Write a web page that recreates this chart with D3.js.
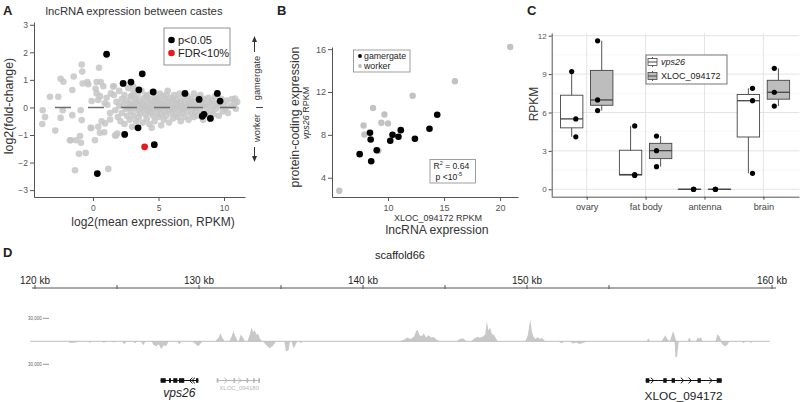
<!DOCTYPE html>
<html><head><meta charset="utf-8">
<script src="https://cdn.jsdelivr.net/npm/d3@7"></script>
<style>
body{margin:0;background:#fff;}
svg{display:block;}
</style></head><body>
<svg id="chart" width="800" height="402"></svg>
<script>
// ================= DATA =================
// Panel A: MA plot (log2 mean expression, log2 fold-change)
const maGrey = [
[-0.86,1.56],[-0.82,1.3],[0.46,1.44],[-2.47,1.04],[-2.26,0.93],[-1.47,1.12],[-1.58,0.63],[-0.79,0.87],[-0.44,0.92],[-0.36,0.84],
[0.59,0.92],[0.79,0.77],[0.2,0.68],[0.28,0.51],[-3.28,0.39],[-2.65,0.39],[-0.1,0.23],[0.4,0.27],[-3.84,-0.1],[-2.31,-0.1],
[-0.94,-0.1],[-3.66,-0.35],[-1.58,-0.28],[-2.47,-0.38],[-3.87,-0.6],[-0.86,-0.46],[-2.88,-0.84],[-0.13,-0.75],[0.4,-0.7],[0.53,-0.92],
[-0.99,-1.04],[-1.76,-1.19],[-1.3,-1.19],[-0.92,-1.28],[0.15,-1.19],[-1.07,-1.68],[-0.56,-1.65],[-1.37,-2.28],[1.17,-2.23],[1.37,0.51],
[1.6,0.77],[1.76,-1.02],[1.04,0.35],[1.3,-0.44],[0.92,-0.58],[0.66,-0.5],[-1.7,-1.19],[-0.18,-0.74],[0.86,-0.9],[1.68,-1.02],
[1.85,-0.95],[4.48,-0.74],[0.53,0.41],[1.53,0.76],[0.28,0.92],[3.08,0.77],[5.2,-0.65],[1.1,0.1],[1.3,-0.2],[0.9,0.15],
[1.6,0.45],[1.7,-0.1],[1.8,0.2],[1.9,-0.35],[2.0,0.6],[2.0,0.05],[2.1,-0.5],[2.2,0.3],[2.2,-0.2],[2.3,0.1],
[2.4,-0.6],[2.4,0.45],[2.5,-0.05],[2.6,0.25],[2.6,-0.3],[2.7,0.7],[2.7,0.0],[2.8,-0.45],[2.8,0.15],[2.9,0.4],
[2.9,-0.15],[3.0,-0.7],[3.0,0.1],[3.1,0.55],[3.1,-0.3],[3.2,0.0],[3.2,0.3],[3.3,-0.5],[3.3,0.2],[3.4,-0.1],
[3.4,0.45],[3.5,0.1],[3.5,-0.35],[3.6,0.25],[3.6,-0.2],[3.7,0.0],[3.7,0.6],[3.8,-0.55],[3.8,0.15],[3.9,-0.05],
[3.9,0.35],[4.0,-0.25],[4.0,0.05],[4.1,0.45],[4.1,-0.4],[4.2,0.2],[4.2,-0.1],[4.3,0.0],[4.3,-0.6],[4.4,0.3],
[4.4,-0.2],[4.5,0.1],[4.5,0.55],[4.6,-0.3],[4.6,-0.05],[4.7,0.2],[4.7,-0.5],[4.8,0.0],[4.8,0.35],[4.9,-0.15],
[4.9,0.1],[5.0,-0.35],[5.0,0.25],[5.1,0.5],[5.1,-0.05],[5.2,0.15],[5.2,-0.25],[5.3,0.0],[5.3,0.4],[5.4,-0.45],
[5.4,0.1],[5.5,-0.15],[5.5,0.3],[5.6,0.05],[5.6,-0.3],[5.7,0.2],[5.7,0.6],[5.8,-0.1],[5.8,-0.55],[5.9,0.1],
[5.9,0.35],[6.0,-0.2],[6.0,0.0],[6.1,0.25],[6.1,-0.4],[6.2,0.45],[6.2,-0.05],[6.3,0.15],[6.3,-0.25],[6.4,0.0],
[6.4,0.3],[6.5,-0.35],[6.5,0.1],[6.6,-0.1],[6.6,0.5],[6.7,0.2],[6.7,-0.5],[6.8,0.05],[6.8,-0.2],[6.9,0.35],
[6.9,-0.05],[7.0,0.15],[7.0,-0.35],[7.1,0.0],[7.2,0.4],[7.2,-0.15],[7.3,0.2],[7.3,-0.45],[7.4,0.05],[7.5,-0.25],
[7.5,0.3],[7.6,0.1],[7.6,-0.05],[7.7,0.5],[7.7,-0.35],[7.8,0.2],[7.8,-0.15],[7.9,0.0],[8.0,0.35],[8.0,-0.3],
[8.1,0.1],[8.2,-0.1],[8.2,0.45],[8.3,0.2],[8.4,-0.45],[8.4,0.05],[8.5,0.3],[8.6,-0.2],[8.6,0.1],[8.7,0.0],
[8.8,0.35],[8.8,-0.3],[8.9,0.15],[9.0,-0.1],[9.1,0.25],[9.2,-0.25],[9.2,0.05],[9.3,0.4],[9.4,-0.05],[9.5,0.15],
[9.6,-0.3],[9.7,0.05],[9.8,0.3],[9.9,-0.15],[10.0,0.1],[10.1,-0.05],[10.2,0.25],[10.3,-0.2],[10.5,0.05],[10.6,0.3],
[10.8,0.15],[10.9,-0.05],[11.0,0.2],[10.84,0.32],[8.17,0.35],[5.6,0.47],[4.86,0.29],[4.1,0.41],[2.95,0.41],[2.83,0.02]
];
const maSignificant = [
[1.04,1.93],[2.3,0.87],[2.9,0.92],[3.76,1.22],[3.5,0.64],[3.44,-0.74],[2.42,-0.98],[0.33,-2.4],
[4.6,0.56],[4.68,-1.35],[7.02,0.51],[8.1,0.29],[9.49,0.51],[9.7,0.23],[8.47,-0.25],[8.34,-0.32],[8.96,-0.4]
];
const maFdr = [[3.94,-1.43]];
const aXTicks = [0,5,10];
const aYTicks = [-3,-2,-1,0,1,2,3];

// Panel B: XLOC_094172 RPKM vs vps26 RPKM
const corGamergate = [
[14.39,9.88],[13.7,8.57],[11.14,8.44],[10.93,7.82],[10.4,8.0],[10.2,7.45],[12.4,7.63],
[8.39,8.2],[8.45,7.57],[7.47,6.2],[8.99,6.57],[8.5,5.54]
];
const corWorker = [
[20.9,16.2],[15.97,13.0],[12.2,11.65],[8.66,10.5],[9.68,9.9],[9.41,9.13],[10.0,9.07],
[7.82,8.88],[7.89,8.04],[9.14,6.51],[5.65,2.78]
];
const bXTicks = [10,15,20];
const bYTicks = [4,8,12,16];

// Panel C: RPKM per tissue
const tissues = ["ovary","fat body","antenna","brain"];
const genes = ["vps26","XLOC_094172"];
const vps26Rpkm = [[4.1,5.5,9.2],[1.08,1.15,4.95],[0,0,0],[1.25,6.92,7.89]];
const xlocRpkm  = [[6.15,6.98,11.6],[1.77,3.02,4.16],[0,0,0],[6.5,7.58,9.45]];
const cYTicks = [0,3,6,9,12];

// Panel D: scaffold66 coverage (kb, reads) and gene models (kb)
const kbTicks = [120,125,130,135,140,145,150,155];
const kbLabels = [120,130,140,150];
const plusCov = [
[120,0],[131.0,0],[131.2,5000],[131.3,10400],[131.4,6000],[131.55,0],
[131.85,0],[132.0,7000],[132.1,13000],[132.2,8000],[132.35,0],
[132.42,0],[132.55,9000],[132.7,4000],[132.8,0],
[132.95,0],[133.1,9000],[133.2,18000],[133.3,12000],[133.4,14000],[133.5,9000],[133.6,10000],[133.7,4000],[133.85,0],
[142.2,0],[142.5,2000],[142.7,5000],[142.9,3000],[143.1,6000],[143.3,15600],[143.45,8000],[143.6,7000],[143.7,10400],[143.85,5000],[144.0,7800],[144.15,5000],[144.3,5500],[144.5,2000],[144.7,0],
[145.7,0],[145.9,3000],[146.1,3900],[146.3,0],
[146.6,0],[146.8,4000],[147.0,5800],[147.1,4500],[147.3,6000],[147.45,9000],[147.55,26000],[147.65,14000],[147.75,18000],[147.85,10000],[148.0,8000],[148.2,0],
[149.9,0],[150.05,8000],[150.2,28700],[150.3,12000],[150.4,6000],[150.5,3000],[150.65,5200],[150.8,3000],[150.9,4500],[151.1,0],
[157.3,0],[157.4,3900],[157.5,0],
[158.2,0],[158.35,5000],[158.45,7800],[158.55,3000],[158.7,0],[158.8,6000],[158.9,13000],[159.0,8000],[159.1,0],
[159.8,0],[159.9,5200],[160.0,0],[160.3,0],[160.4,4500],[160.5,3500],[160.6,5200],[160.7,0],
[161.5,0],[161.6,9100],[161.75,6000],[161.85,0],[164.8,0]
];
const minusCov = [
[120,0],[122.0,0],[122.1,1800],[122.3,2000],[122.5,1500],[122.7,0],
[123.2,0],[123.35,1800],[123.5,0],[124.0,0],[124.2,1800],[124.4,0],
[124.6,0],[124.8,1500],[125.0,0],[125.3,0],[125.45,3900],[125.6,0],
[125.95,0],[126.1,2600],[126.25,0],[126.45,0],[126.6,5200],[126.75,0],
[127.1,0],[127.25,5000],[127.4,6500],[127.55,4000],[127.7,10400],[127.85,5000],[128.0,6500],[128.15,0],
[128.65,0],[128.8,3900],[128.95,0],[129.6,0],[129.8,4000],[129.95,6500],[130.1,3000],[130.25,0],
[133.9,0],[134.1,5000],[134.3,9100],[134.5,6000],[134.7,0],
[135.2,0],[135.3,13000],[135.45,12000],[135.55,0],[135.65,0],[135.75,9100],[135.85,6000],[136.0,0],
[136.1,0],[136.2,2600],[136.35,0],
[151.9,0],[152.1,2500],[152.3,0],[152.6,0],[152.8,3000],[153.0,1500],[153.2,3500],[153.45,2000],[153.7,0],
[159.0,0],[159.05,20800],[159.15,20000],[159.25,0],
[161.8,0],[161.9,4000],[162.05,6500],[162.2,5000],[162.35,0],
[163.1,0],[163.2,2600],[163.35,0],[163.55,0],[163.65,2200],[163.8,0],[164.8,0]
];
const geneNames = ["vps26","XLOC_094180","XLOC_094172"];
const geneSpans = [[127.66,129.96],[131.08,133.72],[157.24,161.87]];
const geneStrands = ["-","+","+"];
const geneExons = [
  [[127.66,127.97],[128.17,128.29],[128.43,128.68],[128.78,129.1],[129.82,129.96]],
  [[131.08,131.18],[132.1,132.2],[132.9,133.0],[133.3,133.4],[133.62,133.72]],
  [[157.24,157.46],[158.31,158.52],[158.82,159.02],[160.4,160.6],[161.57,161.87]]
];
const geneArrows = [[129.45,129.6],[131.69,132.54],[157.7,159.53,160.0,161.26]];
const covScale = 30000;

// ================= DRAWING =================
const FONT = '"Liberation Sans", Arial, Helvetica, sans-serif';
const svg = d3.select('#chart').attr('font-family', FONT);

function styleAxis(g, size, color, tickColor){
  g.attr('font-family', FONT).attr('font-size', size);
  g.selectAll('path.domain').attr('stroke', color).attr('stroke-width', 1);
  g.selectAll('.tick line').attr('stroke', tickColor || color);
  g.selectAll('.tick text').attr('fill', color);
}
function label(x, y, txt, opts){
  const t = svg.append('text').attr('x', x).attr('y', y).text(txt);
  Object.entries(opts || {}).forEach(([k,v]) => t.attr(k, v));
  return t;
}

// Panel letters
[["A",3,15],["B",277,15],["C",527,15],["D",3,257]].forEach(([l,x,y]) =>
  label(x, y, l, {'font-size':13, 'font-weight':'bold', fill:'#222'}));

// ---------- Panel A ----------
const xA = d3.scaleLinear().domain([-4.5, 11.6]).range([34, 245]);
const yA = d3.scaleLinear().domain([-3.25, 3.1]).range([197, 22]);
const gA = svg.append('g');
gA.append('g').attr('transform','translate(0,197)')
  .call(d3.axisBottom(xA).tickValues(aXTicks).tickSize(4).tickSizeOuter(0).tickPadding(4))
  .call(g => styleAxis(g, 8.5, '#555'));
gA.append('g').attr('transform','translate(34,0)')
  .call(d3.axisLeft(yA).tickValues(aYTicks).tickSize(4).tickSizeOuter(0).tickPadding(2).tickFormat(d3.format('d')))
  .call(g => styleAxis(g, 8.5, '#555'));
gA.append('g').selectAll('circle').data(maGrey).join('circle')
  .attr('cx', d => xA(d[0])).attr('cy', d => yA(d[1])).attr('r', 3.3)
  .attr('fill', '#c6c6c6').attr('fill-opacity', 0.85);
gA.append('line').attr('x1', xA(-2.9)).attr('x2', xA(11.1)).attr('y1', yA(0)).attr('y2', yA(0))
  .attr('stroke', '#6e6e6e').attr('stroke-width', 1.6).attr('stroke-dasharray', '16,17');
gA.append('g').selectAll('circle').data(maSignificant).join('circle')
  .attr('cx', d => xA(d[0])).attr('cy', d => yA(d[1])).attr('r', 3.4).attr('fill', '#000');
gA.append('g').selectAll('circle').data(maFdr).join('circle')
  .attr('cx', d => xA(d[0])).attr('cy', d => yA(d[1])).attr('r', 3.4).attr('fill', '#e8191c');
label(134, 15, 'lncRNA expression between castes', {'font-size':11.3, fill:'#333', 'text-anchor':'middle'});
label(153, 226, 'log2(mean expression, RPKM)', {'font-size':12, fill:'#333', 'text-anchor':'middle'});
label(0, 0, 'log2(fold-change)', {'font-size':12.4, fill:'#333', 'text-anchor':'middle',
  transform:'translate(13,106) rotate(-90)'});
// legend A
gA.append('rect').attr('x',164).attr('y',28).attr('width',66).attr('height',37)
  .attr('fill','#fff').attr('stroke','#777').attr('stroke-width',0.8);
gA.append('circle').attr('cx',171.5).attr('cy',40).attr('r',3.3).attr('fill','#000');
gA.append('circle').attr('cx',171.5).attr('cy',53).attr('r',3.3).attr('fill','#e8191c');
label(178, 44, 'p<0.05', {'font-size':11, fill:'#222'});
label(178, 57, 'FDR<10%', {'font-size':11, fill:'#222'});
// caste annotation
gA.append('line').attr('x1',254.5).attr('x2',254.5).attr('y1',52).attr('y2',40).attr('stroke','#333').attr('stroke-width',1);
gA.append('path').attr('d','M254.5,36 L252,42 L257,42 Z').attr('fill','#333');
label(0, 0, 'gamergate', {'font-size':9.3, fill:'#333', 'text-anchor':'middle', transform:'translate(260,78) rotate(-90)'});
gA.append('line').attr('x1',256).attr('x2',263).attr('y1',107.5).attr('y2',107.5).attr('stroke','#444');
label(0, 0, 'worker', {'font-size':9.3, fill:'#333', 'text-anchor':'middle', transform:'translate(260,128) rotate(-90)'});
gA.append('line').attr('x1',254.5).attr('x2',254.5).attr('y1',147).attr('y2',158).attr('stroke','#333').attr('stroke-width',1);
gA.append('path').attr('d','M254.5,162 L252,156 L257,156 Z').attr('fill','#333');

// ---------- Panel B ----------
const xB = d3.scaleLinear().domain([5.0, 21.6]).range([332, 518]);
const yB = d3.scaleLinear().domain([2.2, 16.2]).range([197, 47]);
const gB = svg.append('g');
gB.append('g').attr('transform','translate(0,197)')
  .call(d3.axisBottom(xB).tickValues(bXTicks).tickSize(4).tickSizeOuter(0).tickPadding(4))
  .call(g => styleAxis(g, 9, '#555'));
gB.append('g').attr('transform','translate(332,0)')
  .call(d3.axisLeft(yB).tickValues(bYTicks).tickSize(4).tickSizeOuter(0).tickPadding(2))
  .call(g => styleAxis(g, 9, '#555'));
gB.append('g').selectAll('circle').data(corWorker).join('circle')
  .attr('cx', d => xB(d[0])).attr('cy', d => yB(d[1])).attr('r', 3.2).attr('fill', '#c2c2c2');
gB.append('g').selectAll('circle').data(corGamergate).join('circle')
  .attr('cx', d => xB(d[0])).attr('cy', d => yB(d[1])).attr('r', 3.3).attr('fill', '#000');
// legend B
gB.append('rect').attr('x',353.5).attr('y',50).attr('width',56.5).attr('height',22)
  .attr('fill','#fff').attr('stroke','#888').attr('stroke-width',0.8);
gB.append('circle').attr('cx',360).attr('cy',56).attr('r',1.9).attr('fill','#000');
gB.append('circle').attr('cx',360).attr('cy',66).attr('r',1.9).attr('fill','#bbb');
label(364, 59.2, 'gamergate', {'font-size':8.8, fill:'#222'});
label(364, 69.2, 'worker', {'font-size':8.8, fill:'#222'});
// stats box
gB.append('rect').attr('x',430).attr('y',159.5).attr('width',45.5).attr('height',23.5)
  .attr('fill','#fff').attr('stroke','#888').attr('stroke-width',0.8);
const t1 = label(433.5, 168.8, '', {'font-size':8.6, fill:'#222'});
t1.append('tspan').text('R');
t1.append('tspan').text('2').attr('font-size',5.5).attr('dy',-3.5);
t1.append('tspan').text(' = 0.64').attr('dy',3.5);
const t2 = label(435.5, 179.5, '', {'font-size':8.6, fill:'#222'});
t2.append('tspan').text('p <10');
t2.append('tspan').text('-5').attr('font-size',5.5).attr('dy',-3.5);
label(438, 221, 'XLOC_094172 RPKM', {'font-size':9, fill:'#333', 'text-anchor':'middle'});
label(437, 233.5, 'lncRNA expression', {'font-size':12.2, fill:'#333', 'text-anchor':'middle'});
label(0, 0, 'protein-coding expression', {'font-size':12.3, fill:'#333', 'text-anchor':'middle', transform:'translate(299,117) rotate(-90)'});
const vl = label(0, 0, '', {'font-size':9, fill:'#333', 'text-anchor':'middle', transform:'translate(309,113) rotate(-90)'});
vl.append('tspan').text('vps26').attr('font-style','italic');
vl.append('tspan').text(' RPKM');

// ---------- Panel C ----------
const xC = d3.scalePoint().domain(tissues).range([586.7, 763.4]);
const stepC = xC.step();
const yC = d3.scaleLinear().domain([-0.58, 12.18]).range([196.7, 33.4]);
const cLeft = 551.7, cRight = 799.5;
const gC = svg.append('g');
// minor grid
gC.append('g').selectAll('line').data([1.5,4.5,7.5,10.5]).join('line')
  .attr('x1',cLeft).attr('x2',cRight).attr('y1',d=>yC(d)).attr('y2',d=>yC(d))
  .attr('stroke','#f0f0f0').attr('stroke-width',0.6);
gC.append('g').selectAll('line').data(cYTicks).join('line')
  .attr('x1',cLeft).attr('x2',cRight).attr('y1',d=>yC(d)).attr('y2',d=>yC(d))
  .attr('stroke','#e3e3e3').attr('stroke-width',1);
gC.append('g').selectAll('line').data(tissues).join('line')
  .attr('x1',d=>xC(d)).attr('x2',d=>xC(d)).attr('y1',yC(12.18)).attr('y2',yC(-0.58))
  .attr('stroke','#e3e3e3').attr('stroke-width',1);
gC.append('g').attr('transform',`translate(0,${yC(-0.58)})`)
  .call(d3.axisBottom(xC).tickSize(3).tickSizeOuter(0).tickPadding(4))
  .call(g => { styleAxis(g, 9.2, '#444', '#444'); g.select('path.domain').attr('d', `M${cLeft},0.5H${cRight}`).attr('stroke','#555'); });
gC.append('g').attr('transform',`translate(${cLeft},0)`)
  .call(d3.axisLeft(yC).tickValues(cYTicks).tickSize(3).tickSizeOuter(0).tickPadding(2))
  .call(g => { styleAxis(g, 8, '#555', '#444'); g.select('path.domain').attr('d', `M0.5,${yC(12.18)}V${yC(-0.58)}`); });
label(0, 0, 'RPKM', {'font-size':12, fill:'#333', 'text-anchor':'middle', transform:'translate(538,104) rotate(-90)'});

const seriesC = [vps26Rpkm, xlocRpkm];
const fillC = ['#ffffff','#bdbdbd'];
const dodge = stepC * 0.255, halfW = stepC * 0.19, jitter = [0.07, -0.07];
seriesC.forEach((ser, gi) => {
  const sign = gi === 0 ? -1 : 1;
  ser.forEach((vals, ti) => {
    const v = vals.slice().sort(d3.ascending);
    const q1 = d3.quantile(v, 0.25), med = d3.quantile(v, 0.5), q3 = d3.quantile(v, 0.75);
    const cx = xC(tissues[ti]) + sign * dodge;
    const g = gC.append('g');
    g.append('line').attr('x1',cx).attr('x2',cx).attr('y1',yC(v[0])).attr('y2',yC(v[v.length-1]))
      .attr('stroke','#555').attr('stroke-width',1);
    g.append('rect').attr('x',cx-halfW).attr('width',2*halfW)
      .attr('y',yC(q3)).attr('height',Math.max(0.01,yC(q1)-yC(q3)))
      .attr('fill',fillC[gi]).attr('stroke','#444').attr('stroke-width',0.9);
    g.append('line').attr('x1',cx-halfW).attr('x2',cx+halfW).attr('y1',yC(med)).attr('y2',yC(med))
      .attr('stroke','#444').attr('stroke-width',1.3);
    g.selectAll('circle').data(vals).join('circle')
      .attr('cx', (d,i) => cx + jitter[gi]*stepC*(i===vals.length-1 && ti===0 && gi===0 ? 0 : 1))
      .attr('cy', d => yC(d)).attr('r', 2.6).attr('fill','#000');
  });
});
// legend C
gC.append('rect').attr('x',646).attr('y',55).attr('width',81).attr('height',29)
  .attr('fill','#fff').attr('stroke','#666').attr('stroke-width',0.9);
[0,1].forEach(i => {
  const cy = 62 + i*14;
  gC.append('line').attr('x1',652.5).attr('x2',652.5).attr('y1',cy-5).attr('y2',cy+5).attr('stroke','#555');
  gC.append('rect').attr('x',648).attr('y',cy-3.5).attr('width',9).attr('height',7)
    .attr('fill',fillC[i]).attr('stroke','#444').attr('stroke-width',0.8);
  gC.append('line').attr('x1',648).attr('x2',657).attr('y1',cy).attr('y2',cy).attr('stroke','#444');
  label(661, cy+3.2, genes[i], {'font-size':9, fill:'#222', 'font-style': i===0 ? 'italic' : 'normal'});
});

// ---------- Panel D ----------
const xD = d3.scaleLinear().domain([120, 165]).range([35, 773]);
const yD = d3.scaleLinear().domain([-covScale, covScale]).range([364.3, 318.3]);
const gD = svg.append('g');
label(400, 259, 'scaffold66', {'font-size':11, fill:'#222', 'text-anchor':'middle'});
gD.append('line').attr('x1',32).attr('x2',776).attr('y1',288).attr('y2',288).attr('stroke','#555').attr('stroke-width',1);
gD.append('g').selectAll('line').data(kbTicks).join('line')
  .attr('x1',d=>xD(d)).attr('x2',d=>xD(d)).attr('y1',285).attr('y2',289).attr('stroke','#555');
gD.append('g').selectAll('text').data(kbLabels).join('text')
  .attr('x',d=>xD(d)).attr('y',283.5).attr('text-anchor','middle').attr('font-size',10).attr('fill','#222')
  .text(d => d + ' kb');
// end tick
gD.append('line').attr('x1',772).attr('x2',772).attr('y1',285).attr('y2',289).attr('stroke','#555');
label(772, 283.5, '160 kb', {'font-size':10, fill:'#222', 'text-anchor':'middle'});
// coverage
const areaPlus = d3.area().x(d=>xD(d[0])).y0(yD(0)).y1(d=>yD(d[1]));
const areaMinus = d3.area().x(d=>xD(d[0])).y0(yD(0)).y1(d=>yD(-d[1]));
gD.append('path').attr('d', areaPlus(plusCov)).attr('fill','#c8c8c8');
gD.append('path').attr('d', areaMinus(minusCov)).attr('fill','#c8c8c8');
gD.append('line').attr('x1',xD(119.7)).attr('x2',xD(164.8)).attr('y1',yD(0)).attr('y2',yD(0))
  .attr('stroke','#bdbdbd').attr('stroke-width',1);
[covScale, -covScale].forEach(v => {
  label(28, yD(v)+1.5, d3.format(',')(Math.abs(v)), {'font-size':4.5, fill:'#666'});
  gD.append('line').attr('x1',43).attr('x2',49).attr('y1',yD(v)).attr('y2',yD(v)).attr('stroke','#777').attr('stroke-width',0.8);
});
// gene models
const geneY = 380.5;
const geneColor = ['#111','#b5b5b5','#111'];
geneNames.forEach((name, gi) => {
  const g = gD.append('g');
  const col = geneColor[gi];
  g.append('line').attr('x1',xD(geneSpans[gi][0])).attr('x2',xD(geneSpans[gi][1]))
    .attr('y1',geneY).attr('y2',geneY).attr('stroke',col).attr('stroke-width',1);
  g.selectAll('rect').data(geneExons[gi]).join('rect')
    .attr('x',d=>xD(d[0])).attr('width',d=>Math.max(1.5,xD(d[1])-xD(d[0])))
    .attr('y',geneY-2.3).attr('height',4.6).attr('fill',col);
  g.selectAll('path').data(geneArrows[gi]).join('path')
    .attr('d', d => {
      const x = xD(d);
      return geneStrands[gi] === '-' ? `M${x+2.5},${geneY-2.8} L${x-0.5},${geneY} L${x+2.5},${geneY+2.8}`
                                     : `M${x-2.5},${geneY-2.8} L${x+0.5},${geneY} L${x-2.5},${geneY+2.8}`;
    })
    .attr('fill','none').attr('stroke',col).attr('stroke-width',1);
});
label(xD(128.8), 397, 'vps26', {'font-size':12, 'font-style':'italic', fill:'#222', 'text-anchor':'middle'});
label(xD(132.45), 390, 'XLOC_094180', {'font-size':6, fill:'#b5b5b5', 'text-anchor':'middle'});
label(xD(159.55), 400, 'XLOC_094172', {'font-size':11.8, fill:'#222', 'text-anchor':'middle'});
</script>
</body></html>
